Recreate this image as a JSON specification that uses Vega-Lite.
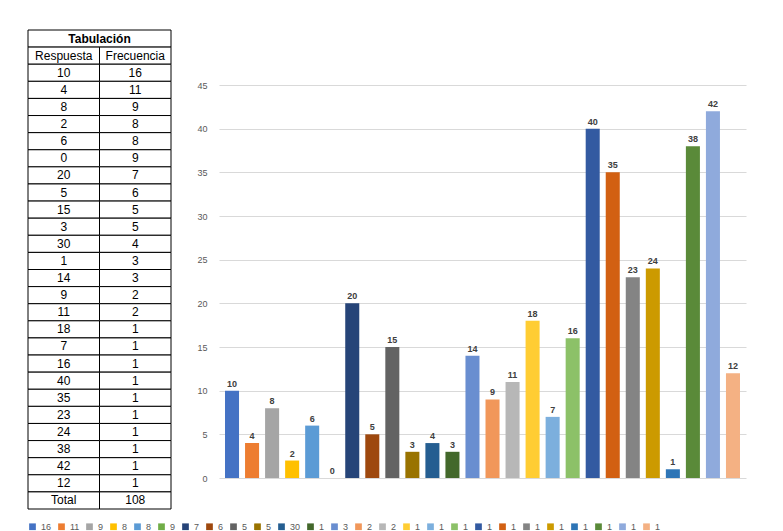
{
"$schema":"https://vega.github.io/schema/vega-lite/v6.json",
"background":"white",
"padding":{"left":27,"top":24,"right":10,"bottom":5},
"config":{"font":"Liberation Sans","view":{"stroke":null},"concat":{"spacing":24}},
"datasets":{
"tbl":[
{"r":1,"c":"Respuesta","t":"Respuesta","b":"bold"},{"r":1,"c":"Frecuencia","t":"Frecuencia","b":"bold"},
{"r":2,"c":"Respuesta","t":"10"},{"r":2,"c":"Frecuencia","t":"16"},
{"r":3,"c":"Respuesta","t":"4"},{"r":3,"c":"Frecuencia","t":"11"},
{"r":4,"c":"Respuesta","t":"8"},{"r":4,"c":"Frecuencia","t":"9"},
{"r":5,"c":"Respuesta","t":"2"},{"r":5,"c":"Frecuencia","t":"8"},
{"r":6,"c":"Respuesta","t":"6"},{"r":6,"c":"Frecuencia","t":"8"},
{"r":7,"c":"Respuesta","t":"0"},{"r":7,"c":"Frecuencia","t":"9"},
{"r":8,"c":"Respuesta","t":"20"},{"r":8,"c":"Frecuencia","t":"7"},
{"r":9,"c":"Respuesta","t":"5"},{"r":9,"c":"Frecuencia","t":"6"},
{"r":10,"c":"Respuesta","t":"15"},{"r":10,"c":"Frecuencia","t":"5"},
{"r":11,"c":"Respuesta","t":"3"},{"r":11,"c":"Frecuencia","t":"5"},
{"r":12,"c":"Respuesta","t":"30"},{"r":12,"c":"Frecuencia","t":"4"},
{"r":13,"c":"Respuesta","t":"1"},{"r":13,"c":"Frecuencia","t":"3"},
{"r":14,"c":"Respuesta","t":"14"},{"r":14,"c":"Frecuencia","t":"3"},
{"r":15,"c":"Respuesta","t":"9"},{"r":15,"c":"Frecuencia","t":"2"},
{"r":16,"c":"Respuesta","t":"11"},{"r":16,"c":"Frecuencia","t":"2"},
{"r":17,"c":"Respuesta","t":"18"},{"r":17,"c":"Frecuencia","t":"1"},
{"r":18,"c":"Respuesta","t":"7"},{"r":18,"c":"Frecuencia","t":"1"},
{"r":19,"c":"Respuesta","t":"16"},{"r":19,"c":"Frecuencia","t":"1"},
{"r":20,"c":"Respuesta","t":"40"},{"r":20,"c":"Frecuencia","t":"1"},
{"r":21,"c":"Respuesta","t":"35"},{"r":21,"c":"Frecuencia","t":"1"},
{"r":22,"c":"Respuesta","t":"23"},{"r":22,"c":"Frecuencia","t":"1"},
{"r":23,"c":"Respuesta","t":"24"},{"r":23,"c":"Frecuencia","t":"1"},
{"r":24,"c":"Respuesta","t":"38"},{"r":24,"c":"Frecuencia","t":"1"},
{"r":25,"c":"Respuesta","t":"42"},{"r":25,"c":"Frecuencia","t":"1"},
{"r":26,"c":"Respuesta","t":"12"},{"r":26,"c":"Frecuencia","t":"1"},
{"r":27,"c":"Respuesta","t":"Total"},{"r":27,"c":"Frecuencia","t":"108"}
],
"bars":[
{"id":0,"v":10},{"id":1,"v":4},{"id":2,"v":8},{"id":3,"v":2},{"id":4,"v":6},{"id":5,"v":0},
{"id":6,"v":20},{"id":7,"v":5},{"id":8,"v":15},{"id":9,"v":3},{"id":10,"v":4},{"id":11,"v":3},
{"id":12,"v":14},{"id":13,"v":9},{"id":14,"v":11},{"id":15,"v":18},{"id":16,"v":7},{"id":17,"v":16},
{"id":18,"v":40},{"id":19,"v":35},{"id":20,"v":23},{"id":21,"v":24},{"id":22,"v":1},{"id":23,"v":38},
{"id":24,"v":42},{"id":25,"v":12}
]},
"hconcat":[
{"width":143,"height":479,
"layer":[
{"data":{"values":[{"r":0}]},"mark":{"type":"rect","fill":"white","stroke":"black","strokeWidth":1},
 "encoding":{"y":{"field":"r","type":"ordinal","scale":{"domain":[0,1,2,3,4,5,6,7,8,9,10,11,12,13,14,15,16,17,18,19,20,21,22,23,24,25,26,27],"paddingInner":0,"paddingOuter":0},"axis":null},
  "x":{"datum":"Respuesta","type":"nominal","bandPosition":0,"scale":{"domain":["Respuesta","Frecuencia"],"paddingInner":0,"paddingOuter":0},"axis":null},
  "x2":{"datum":"Frecuencia","bandPosition":1}}},
{"data":{"values":[{"r":0}]},"mark":{"type":"text","fontWeight":"bold","fontSize":12},
 "encoding":{"y":{"field":"r","type":"ordinal"},"x":{"datum":"Respuesta","type":"nominal","bandPosition":1},"text":{"value":"Tabulación"}}},
{"data":{"name":"tbl"},"mark":{"type":"rect","fill":"white","stroke":"black","strokeWidth":1},
 "encoding":{"y":{"field":"r","type":"ordinal"},"x":{"field":"c","type":"nominal"}}},
{"data":{"name":"tbl"},"mark":{"type":"text","fontSize":12},
 "encoding":{"y":{"field":"r","type":"ordinal"},"x":{"field":"c","type":"nominal"},"text":{"field":"t"},
  "fontWeight":{"condition":{"test":"datum.b=='bold'","value":"bold"},"value":"normal"}}}
]},
{"spacing":45,"vconcat":[
{"width":527,"height":1,"data":{"values":[{"a":1}]},"mark":{"type":"text","opacity":0},"encoding":{"text":{"value":""}}},
{"width":527,"height":393,
"data":{"name":"bars"},
"encoding":{"x":{"field":"id","type":"ordinal","axis":null,"scale":{"paddingInner":0.3,"paddingOuter":0.3}},
 "y":{"field":"v","type":"quantitative","scale":{"domain":[0,45]},
  "axis":{"values":[0,5,10,15,20,25,30,35,40,45],"title":null,"domain":false,"ticks":false,"labelFontSize":9,"labelColor":"#595959","gridColor":"#d9d9d9","labelPadding":12}}},
"layer":[
{"mark":"bar","encoding":{"color":{"field":"id","type":"nominal",
 "scale":{"range":["#4472C4","#ED7D31","#A5A5A5","#FFC000","#5B9BD5","#70AD47","#264478","#9E480E","#636363","#997300","#255E91","#43682B","#698ED0","#F1975A","#B7B7B7","#FFCD33","#7CAFDD","#8CC168","#335AA1","#D26012","#848484","#CC9A00","#2E75B6","#5A8A39","#8FAADC","#F4B183"]},
 "legend":{"orient":"bottom","direction":"horizontal","columns":26,"title":null,"symbolType":"square","symbolSize":45,"labelFontSize":9,"labelColor":"#595959","columnPadding":5,"offset":12,
  "labelExpr":"['16','11','9','8','8','9','7','6','5','5','30','1','3','2','2','1','1','1','1','1','1','1','1','1','1','1'][datum.value]"}}}},
{"mark":{"type":"text","dy":-7,"fontSize":9,"fontWeight":"bold","color":"#404040"},"encoding":{"text":{"field":"v"}}},
{"data":{"values":[{"a":1}]},"mark":{"type":"text","fontSize":14,"color":"#595959","baseline":"middle"},
 "encoding":{"x":{"datum":12,"type":"ordinal","bandPosition":1.15},"y":{"datum":45,"type":"quantitative"},"text":{"value":"¿Cuántas horas a la semana estudia?"}}}
]}
]}
]}
